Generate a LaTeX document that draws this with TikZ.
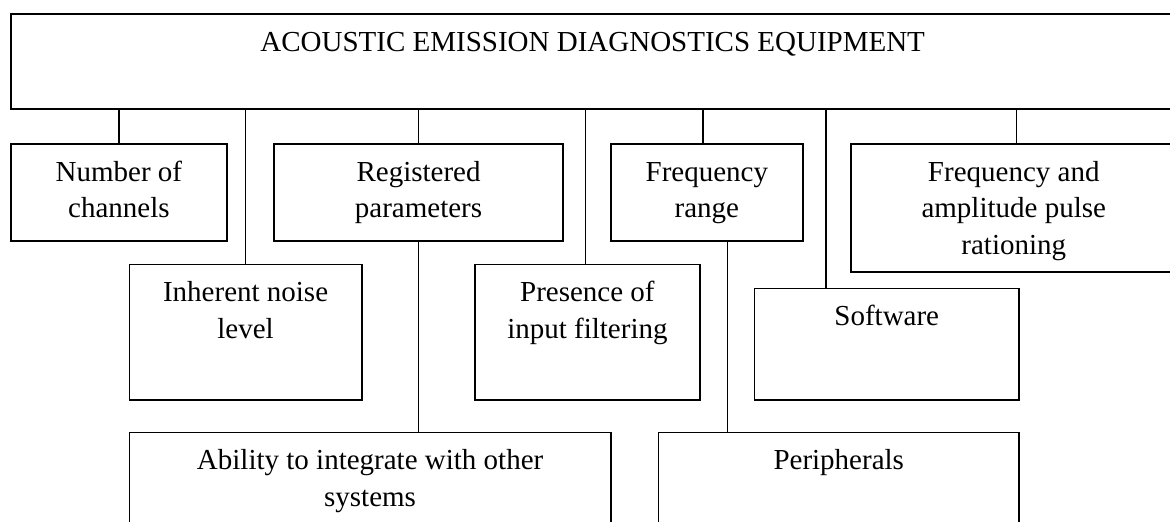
\documentclass[tikz,border=0pt]{standalone}
\usepackage{fontspec}
\setmainfont{Liberation Serif}
\newcommand{\mybox}[3]{\parbox[c][#2pt][t]{#1pt}{\centering\rule{0pt}{37.5pt}#3}}
\begin{document}
\begin{tikzpicture}[x=1pt,y=-1pt,
  box/.style={draw, line width=1.5pt, inner sep=0pt, anchor=north west,
    font=\fontsize{29}{36.3}\selectfont},
  link/.style={draw, line width=1.5pt}]
\useasboundingbox (0,0) rectangle (1170,522);
\clip (0,0) rectangle (1170,522);
\node[box] (top) at (10,13) {\mybox{1164}{95}{ACOUSTIC EMISSION DIAGNOSTICS EQUIPMENT}};
\node[box] (num) at (10,143.3) {\mybox{216.3}{96.7}{Number of\\channels}};
\node[box] (reg) at (273.3,143.3) {\mybox{289}{96.7}{Registered\\parameters}};
\node[box] (freq) at (610,143.3) {\mybox{192.3}{96.7}{Frequency\\range}};
\node[box] (amp) at (850,143.3) {\mybox{326}{127.7}{Frequency and\\amplitude pulse\\rationing}};
\node[box] (noise) at (128.7,263.7) {\mybox{232.3}{135.6}{Inherent noise\\level}};
\node[box] (filt) at (474.3,263.7) {\mybox{224.7}{135.6}{Presence of\\input filtering}};
\node[box] (soft) at (753.7,287.7) {\mybox{264.6}{111.6}{Software}};
\node[box] (abil) at (128.7,431.7) {\mybox{481.3}{110}{Ability to integrate with other\\systems}};
\node[box] (peri) at (657.7,431.7) {\mybox{360.6}{110}{Peripherals}};
\draw[link] (num.north) -- (num.north |- top.south);
\draw[link] (noise.north) -- (noise.north |- top.south);
\draw[link] (reg.north) -- (reg.north |- top.south);
\draw[link] ([xshift=-2]filt.north) -- ([xshift=-2]filt.north |- top.south);
\draw[link] ([xshift=-4]freq.north) -- ([xshift=-4]freq.north |- top.south);
\draw[link] ([xshift=-61]soft.north) -- ([xshift=-61]soft.north |- top.south);
\draw[link] ([xshift=2.7]amp.north) -- ([xshift=2.7]amp.north |- top.south);
\draw[link] (reg.south) -- (reg.south |- abil.north);
\draw[link] ([xshift=20.7]freq.south) -- ([xshift=20.7]freq.south |- peri.north);
\end{tikzpicture}
\end{document}
